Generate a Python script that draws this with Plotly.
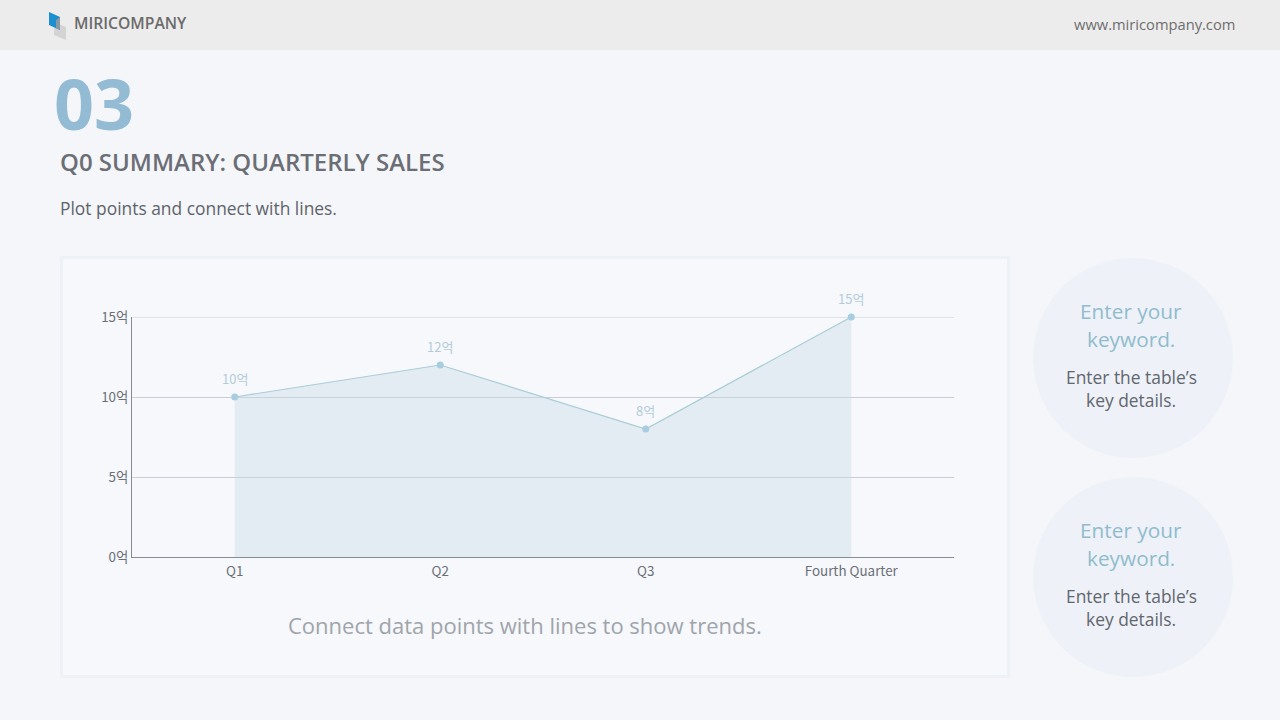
import plotly.graph_objects as go

W, H = 1280, 720
categories = ["Q1", "Q2", "Q3", "Fourth Quarter"]
sales = [10, 12, 8, 15]
value_labels = ["10억", "12억", "8억", "15억"]
y_ticks = [0, 5, 10, 15]
y_tick_labels = ["0억", "5억", "10억", "15억"]

FONT = "Open Sans, Noto Sans CJK KR, Noto Sans, sans-serif"
CFONT = "Noto Sans CJK KR, Noto Sans, sans-serif"

def px(x):
    return x / W

def py(y):
    return 1 - y / H

fig = go.Figure()
fig.add_trace(go.Scatter(
    x=categories, y=sales, mode="lines+markers",
    line=dict(color="#a9cdd6", width=1.2),
    marker=dict(size=7, color="#a9cde0"),
    fill="tozeroy", fillcolor="rgba(200,218,232,0.42)",
    hoverinfo="skip", showlegend=False, cliponaxis=False,
))

shapes = []
# header band
shapes.append(dict(type="rect", xref="paper", yref="paper", x0=0, x1=1, y0=py(50), y1=1,
                   fillcolor="#ececec", line=dict(width=0), layer="below"))
# card shadow + card
shapes.append(dict(type="rect", xref="paper", yref="paper", x0=px(60), x1=px(1010), y0=py(678), y1=py(256),
                   fillcolor="#eef1f5", line=dict(width=0), layer="below"))
shapes.append(dict(type="rect", xref="paper", yref="paper", x0=px(63), x1=px(1007), y0=py(675), y1=py(259),
                   fillcolor="#f6f8fb", line=dict(width=0), layer="below"))
# circles
for cy in [358, 577]:
    shapes.append(dict(type="circle", xref="paper", yref="paper",
                       x0=px(1033), x1=px(1233), y0=py(cy + 100), y1=py(cy - 100),
                       fillcolor="#eef2f8", line=dict(width=0), layer="below"))
# top gridline (at the axis range edge)
shapes.append(dict(type="line", xref="x domain", yref="y", x0=0, x1=1, y0=y_ticks[-1], y1=y_ticks[-1],
                   line=dict(color="#c9cdd5", width=1), layer="below"))
# logo
shapes.append(dict(type="path", xref="paper", yref="paper",
                   path=f"M {px(54)},{py(22)} L {px(66)},{py(27)} L {px(66)},{py(40)} L {px(54)},{py(35)} Z",
                   fillcolor="#d4d4d4", line=dict(width=0)))
shapes.append(dict(type="path", xref="paper", yref="paper",
                   path=f"M {px(49)},{py(12)} L {px(60)},{py(17)} L {px(60)},{py(30)} L {px(49)},{py(25)} Z",
                   fillcolor="#1b8fcf", line=dict(width=0)))
shapes.append(dict(type="path", xref="paper", yref="paper",
                   path=f"M {px(56)},{py(20)} L {px(60)},{py(17)} L {px(60)},{py(30)} L {px(56)},{py(28)} Z",
                   fillcolor="#8a9aa5", line=dict(width=0)))

annotations = []
def txt(x, y, s, size, color, xanchor="left", weight="normal"):
    annotations.append(dict(xref="paper", yref="paper", x=px(x), y=py(y), text=s, showarrow=False,
                            xanchor=xanchor, yanchor="middle",
                            font=dict(family=FONT, size=size, color=color, weight=weight)))

# value labels above points
for c, v, lab in zip(categories, sales, value_labels):
    annotations.append(dict(xref="x", yref="y", x=c, y=v, text=lab, showarrow=False,
                            xanchor="center", yanchor="middle", yshift=19,
                            font=dict(family=CFONT, size=13, color="#b4ccd8")))

txt(72, 23, "MIRICOMPANY", 15.7, "#6b6b6b", weight=600)
txt(1237, 24, "www.miricompany.com", 14.7, "#6e6e6e", xanchor="right")
txt(52, 103, "03", 70, "#93bbd3", weight=700)
txt(58, 161, "Q0 SUMMARY: QUARTERLY SALES", 24, "#6b6e75", weight=600)
txt(58, 208, "Plot points and connect with lines.", 17.4, "#5f636b")
txt(525, 625, "Connect data points with lines to show trends.", 22, "#a0a4ab", xanchor="center")
for cy in [358, 577]:
    txt(1131, cy - 47, "Enter your", 20.8, "#90bccd", xanchor="center")
    txt(1131, cy - 19, "keyword.", 20.8, "#90bccd", xanchor="center")
    txt(1131, cy + 19, "Enter the table’s", 17.4, "#62666e", xanchor="center")
    txt(1131, cy + 42, "key details.", 17.4, "#62666e", xanchor="center")

fig.update_layout(
    width=W, height=H, margin=dict(l=0, r=0, t=0, b=0, pad=0, autoexpand=False),
    paper_bgcolor="#f4f6f9", plot_bgcolor="rgba(0,0,0,0)",
    shapes=shapes, annotations=annotations, showlegend=False,
    xaxis=dict(domain=[px(132), px(954)], range=[-0.5, 3.5], showgrid=False,
               showline=True, linecolor="#868b94", linewidth=1, ticks="",
               ticklabelstandoff=2,
               tickfont=dict(family=CFONT, size=13.4, color="#6b6f78"), fixedrange=True),
    yaxis=dict(domain=[py(557), py(317)], range=[0, 15], tickvals=y_ticks, ticktext=y_tick_labels,
               showgrid=True, gridcolor="#c9cdd5", gridwidth=1, zeroline=False,
               showline=True, linecolor="#868b94", linewidth=1, ticks="",
               tickfont=dict(family=CFONT, size=13.4, color="#6b6f78"), fixedrange=True),
)
fig.write_html(
    "out.html",
    config={"displayModeBar": False},
    post_script=("document.documentElement.style.margin='0';document.body.style.margin='0';"
                 "document.body.style.overflow='hidden';document.body.style.background='#f4f6f9';"
                 "var d=document.getElementById('{plot_id}');d.style.position='absolute';"
                 "d.style.top='0px';d.style.left='0px';"),
)
